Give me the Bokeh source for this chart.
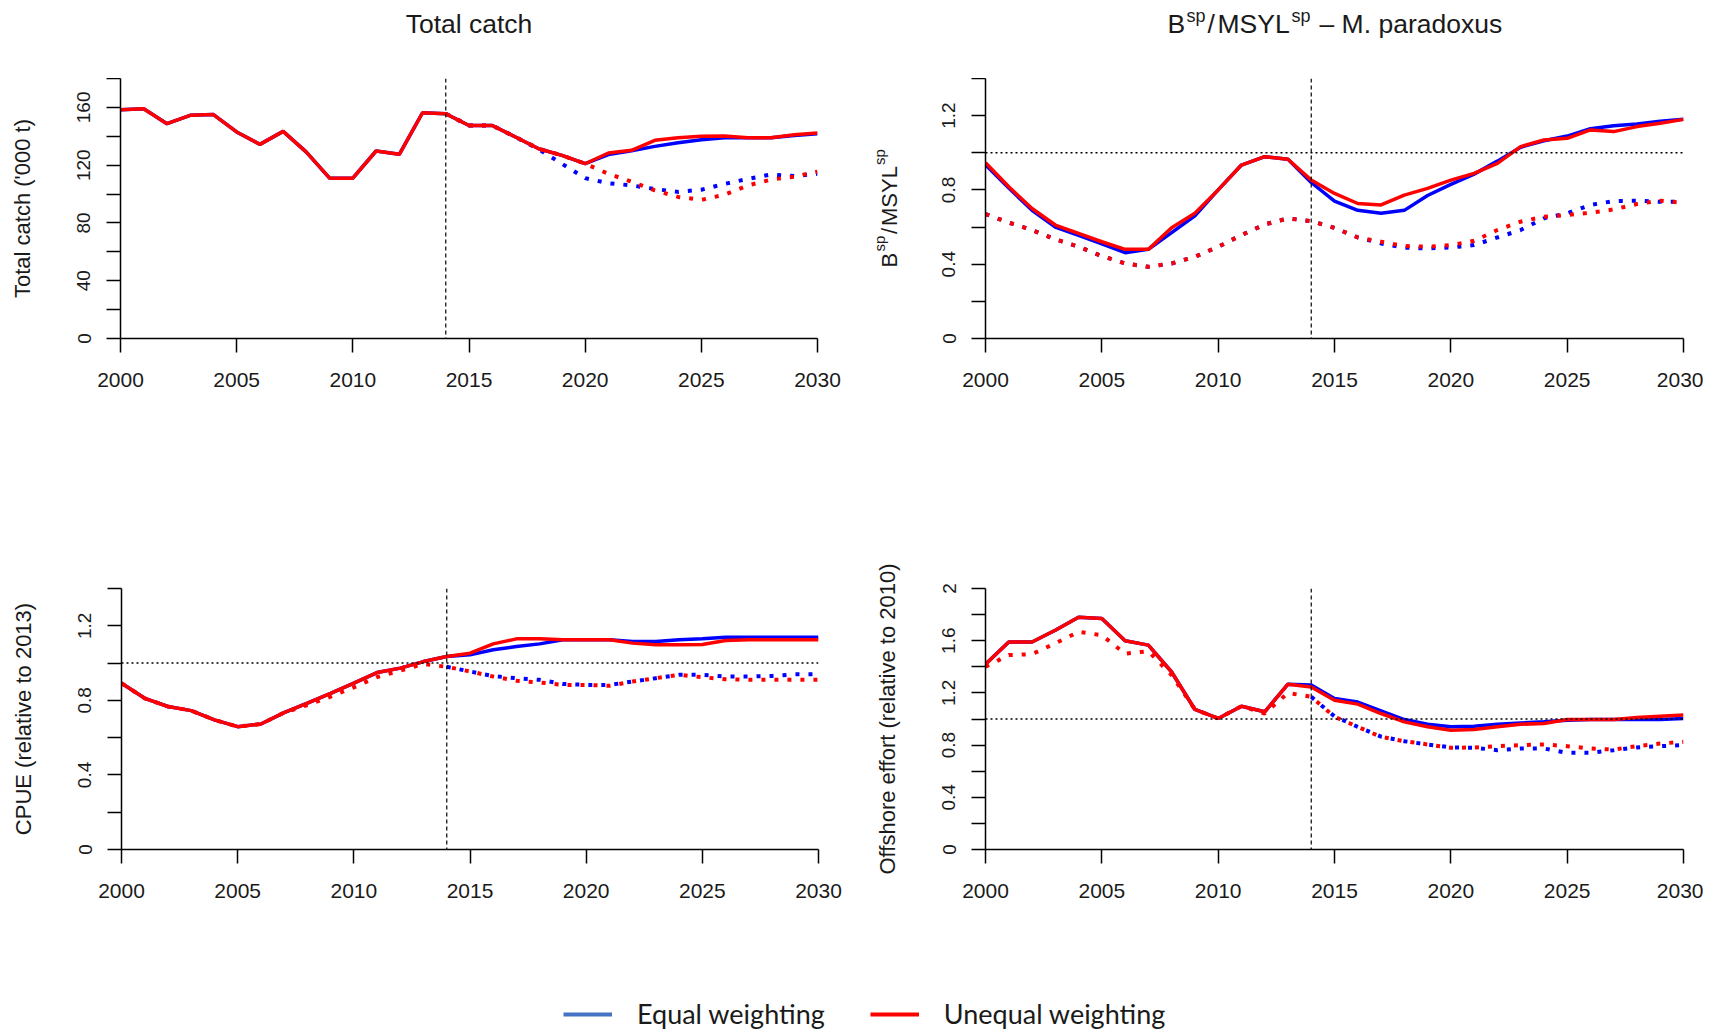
import numpy as np
from bokeh.plotting import figure
from bokeh.layouts import column, row
from bokeh.models import FixedTicker, Span, Legend, LegendItem
from bokeh.core.properties import value
from bokeh.embed import file_html
from bokeh.resources import INLINE

# ---------------- data ----------------
years = list(range(2000, 2031))
proj_years = list(range(2014, 2031))
x_ticks = [2000, 2005, 2010, 2015, 2020, 2025, 2030]

# Total catch ('000 t)
catch_unequal = [158.4, 159.0, 148.7, 154.5, 155.0, 143.0, 134.4, 143.4, 129.0, 111.0, 111.0,
                 129.8, 127.5, 156.3, 155.6, 147.5, 147.5, 139.5, 131.4, 126.8, 121.0,
                 128.4, 130.3, 137.2, 139.0, 140.0, 140.2, 139.0, 139.0, 141.0, 142.2]
catch_equal = [158.4, 159.0, 148.7, 154.5, 155.0, 143.0, 134.4, 143.4, 129.0, 111.0, 111.0,
               129.8, 127.5, 156.3, 155.6, 147.5, 147.5, 139.5, 131.4, 126.8, 121.0,
               127.3, 130.0, 133.0, 135.5, 137.6, 139.0, 139.0, 139.0, 140.6, 141.8]
catch_equal_low = [155.6, 147.5, 147.5, 139.5, 131.0, 121.0, 111.0, 107.5, 106.0, 103.5,
                   101.5, 103.0, 107.0, 110.5, 113.5, 112.5, 114.0]
catch_unequal_low = [155.6, 147.5, 147.5, 139.5, 131.4, 126.8, 121.0, 114.0, 108.5, 102.5,
                     98.0, 96.0, 99.5, 106.0, 110.0, 112.0, 115.5]

# Bsp/MSYLsp - M. paradoxus
b_unequal = [0.947, 0.817, 0.700, 0.611, 0.566, 0.521, 0.480, 0.480, 0.596, 0.674, 0.800,
             0.934, 0.979, 0.965, 0.853, 0.781, 0.727, 0.719, 0.772, 0.808, 0.853,
             0.889, 0.943, 1.033, 1.069, 1.078, 1.123, 1.114, 1.141, 1.159, 1.180]
b_equal = [0.935, 0.810, 0.690, 0.600, 0.555, 0.510, 0.462, 0.480, 0.570, 0.660, 0.800,
           0.934, 0.979, 0.965, 0.840, 0.740, 0.690, 0.674, 0.690, 0.770, 0.830,
           0.885, 0.955, 1.030, 1.065, 1.090, 1.130, 1.145, 1.155, 1.170, 1.180]
b_unequal_low = [0.670, 0.624, 0.584, 0.534, 0.494, 0.444, 0.404, 0.386, 0.404, 0.440, 0.494,
                 0.557, 0.614, 0.647, 0.632, 0.596, 0.544, 0.521, 0.498, 0.494, 0.503,
                 0.526, 0.584, 0.629, 0.656, 0.665, 0.677, 0.695, 0.724, 0.742, 0.731]
b_equal_low = [0.670, 0.624, 0.584, 0.534, 0.494, 0.444, 0.404, 0.386, 0.404, 0.440, 0.494,
               0.557, 0.614, 0.647, 0.632, 0.596, 0.544, 0.512, 0.489, 0.485, 0.490,
               0.503, 0.544, 0.584, 0.647, 0.674, 0.719, 0.740, 0.742, 0.736, 0.736]

# CPUE (relative to 2013)
cpue_unequal = [0.892, 0.811, 0.767, 0.745, 0.695, 0.659, 0.673, 0.734, 0.785, 0.838, 0.892,
                0.949, 0.973, 1.008, 1.035, 1.053, 1.103, 1.130, 1.130, 1.125, 1.125,
                1.125, 1.107, 1.098, 1.098, 1.100, 1.121, 1.125, 1.125, 1.125, 1.125]
cpue_equal = [0.892, 0.811, 0.767, 0.745, 0.695, 0.659, 0.673, 0.734, 0.785, 0.838, 0.892,
              0.949, 0.973, 1.008, 1.035, 1.044, 1.071, 1.089, 1.103, 1.125, 1.125,
              1.125, 1.116, 1.116, 1.125, 1.130, 1.139, 1.139, 1.139, 1.139, 1.139]
cpue_unequal_low = [0.892, 0.811, 0.767, 0.745, 0.695, 0.659, 0.673, 0.734, 0.775, 0.820, 0.870,
                    0.925, 0.960, 0.995, 0.980, 0.955, 0.928, 0.905, 0.896, 0.883, 0.883,
                    0.878, 0.901, 0.919, 0.937, 0.924, 0.913, 0.910, 0.910, 0.910, 0.910]
cpue_equal_low = [0.980, 0.955, 0.930, 0.919, 0.910, 0.888, 0.883, 0.883, 0.901, 0.919,
                  0.937, 0.937, 0.928, 0.928, 0.931, 0.940, 0.940]

# Offshore effort (relative to 2010)
eff_unequal = [1.420, 1.590, 1.590, 1.680, 1.780, 1.770, 1.600, 1.566, 1.360, 1.073, 1.004,
               1.098, 1.055, 1.267, 1.246, 1.144, 1.114, 1.042, 0.978, 0.940, 0.914,
               0.920, 0.940, 0.960, 0.965, 0.996, 0.996, 0.996, 1.011, 1.022, 1.030]
eff_equal = [1.420, 1.590, 1.590, 1.680, 1.780, 1.770, 1.600, 1.566, 1.360, 1.073, 1.004,
             1.098, 1.055, 1.267, 1.260, 1.157, 1.130, 1.063, 0.996, 0.960, 0.940,
             0.945, 0.960, 0.970, 0.978, 0.990, 0.996, 0.996, 0.996, 0.996, 1.004]
eff_unequal_low = [1.400, 1.490, 1.497, 1.580, 1.668, 1.642, 1.500, 1.520, 1.336, 1.073, 1.004,
                   1.098, 1.042, 1.200, 1.170, 1.017, 0.940, 0.863, 0.830, 0.805, 0.779,
                   0.782, 0.792, 0.800, 0.805, 0.792, 0.774, 0.766, 0.792, 0.812, 0.825]
eff_equal_low = [1.170, 1.020, 0.940, 0.865, 0.830, 0.805, 0.782, 0.780, 0.761, 0.774,
                 0.774, 0.741, 0.741, 0.761, 0.782, 0.792, 0.800]

series_names = ["Equal weighting", "Unequal weighting"]
titles = ["Total catch"]
title2_parts = ["B", "sp", "/", "MSYL", "sp", "\u2013 M. paradoxus"]
ylab2_parts = ["B", "sp", "/", "MSYL", "sp"]

# ---------------- style ----------------
FONT = "Liberation Sans"
BLUE = "#0000FF"
RED = "#FF0000"
TXT = "#1a1a1a"
TOTAL_W = 1703


def make_panel(ymax, y_major, y_minor, y_label_map, ylabel, b_left, b_right, b_top,
               b_bottom, fh, fw):
    p = figure(frame_width=fw, frame_height=fh, x_range=(2000, 2030), y_range=(0, ymax),
               output_backend="svg", toolbar_location=None,
               min_border_left=b_left, min_border_right=b_right,
               min_border_top=b_top, min_border_bottom=b_bottom)
    p.grid.visible = False
    p.outline_line_color = None

    xa = p.xaxis[0]
    xa.ticker = FixedTicker(ticks=x_ticks)
    ya = p.yaxis[0]
    ya.ticker = FixedTicker(ticks=y_major, minor_ticks=y_minor)
    ya.major_label_overrides = y_label_map
    for ax in (xa, ya):
        ax.axis_line_color = "black"
        ax.axis_line_width = 1.5
        ax.major_tick_line_color = "black"
        ax.major_tick_line_width = 1.5
        ax.major_tick_in = 0
        ax.major_tick_out = 14
        ax.minor_tick_in = 0
        ax.minor_tick_out = 14
        ax.minor_tick_line_width = 1.5
        ax.minor_tick_line_color = "black"
        ax.major_label_text_font = FONT
        ax.major_label_text_color = TXT
    xa.major_label_text_font_size = "21px"
    ya.major_label_text_font_size = "19px"
    xa.minor_tick_line_color = None
    xa.major_label_standoff = 20
    ya.major_label_orientation = "vertical"
    ya.major_label_standoff = 16
    if ylabel:
        ya.axis_label = ylabel
        ya.axis_label_text_font = FONT
        ya.axis_label_text_font_size = "22px"
        ya.axis_label_text_font_style = "normal"
        ya.axis_label_text_color = TXT
        ya.axis_label_standoff = 40
    return p


def add_lines(p, x, eq, uneq, x_low_eq, eq_low, x_low_uneq, uneq_low):
    p.line(x_low_eq, eq_low, line_color=BLUE, line_width=4, line_dash="4 9")
    p.line(x, eq, line_color=BLUE, line_width=3.5)
    p.line(x_low_uneq, uneq_low, line_color=RED, line_width=4, line_dash="4 9")
    p.line(x, uneq, line_color=RED, line_width=3.5)


def vline(p):
    p.add_layout(Span(location=2014, dimension="height", line_color="black",
                      line_width=1.2, line_dash="4 3"))


def hline(p):
    p.add_layout(Span(location=1.0, dimension="width", line_color="black",
                      line_width=1.6, line_dash="2 3"))


def blank_fig(w, h):
    f = figure(frame_width=w, frame_height=h, x_range=(0, w), y_range=(0, h),
               output_backend="svg", toolbar_location=None,
               x_axis_type=None, y_axis_type=None,
               min_border_left=0, min_border_right=0, min_border_top=0, min_border_bottom=0)
    f.grid.visible = False
    f.outline_line_color = None
    return f


FW_L, FW_R = 697, 698

# ---- title strip (page y 0..78) ----
tstrip = blank_fig(TOTAL_W, 78)
tstrip.text(x=[468.5], y=[55], text=[titles[0]], text_align="center",
            text_baseline="alphabetic", text_font=value(FONT), text_font_size="26.5px",
            text_color=TXT)
t2_x = [1167, 1186, 1207, 1217, 1291, 1319]
for txt, xo in zip(title2_parts, t2_x):
    sup = txt == "sp"
    tstrip.text(x=[xo], y=[63 if sup else 55], text=[txt], text_align="left",
                text_baseline="alphabetic", text_font=value(FONT),
                text_font_size="18px" if sup else "26.5px", text_color=TXT)

# ---- Panel 1 : Total catch ----
p1 = make_panel(180, [0, 40, 80, 120, 160], [20, 60, 100, 140, 180],
                {0: "0", 40: "40", 80: "80", 120: "120", 160: "160"},
                "Total catch ('000 t)", 120, 43, 0, 100, 260, FW_L)
vline(p1)
add_lines(p1, years, catch_equal, catch_unequal, proj_years, catch_equal_low,
          proj_years, catch_unequal_low)

# ---- y label for panel 2 (page x 860..920, page y 78..438) ----
ylab = blank_fig(60, 360)
yl_y = [171, 187, 204.5, 212.5, 273.5]
for txt, yo in zip(ylab2_parts, yl_y):
    sup = txt == "sp"
    ylab.text(x=[19 if sup else 29], y=[yo], text=[txt], angle=np.pi / 2,
              text_align="left", text_baseline="alphabetic", text_font=value(FONT),
              text_font_size="15px" if sup else "22px", text_color=TXT)

# ---- Panel 2 : Bsp/MSYLsp ----
p2 = make_panel(1.4, [0, 0.4, 0.8, 1.2], [0.2, 0.6, 1.0, 1.4],
                {0: "0", 0.4: "0.4", 0.8: "0.8", 1.2: "1.2"},
                None, 65, 20, 0, 100, 260, FW_R)
hline(p2)
vline(p2)
add_lines(p2, years, b_equal, b_unequal, years, b_equal_low, years, b_unequal_low)

# ---- Panel 3 : CPUE ----
p3 = make_panel(1.4, [0, 0.4, 0.8, 1.2], [0.2, 0.6, 1.0, 1.4],
                {0: "0", 0.4: "0.4", 0.8: "0.8", 1.2: "1.2"},
                "CPUE (relative to 2013)", 121, 42, 150, 136, 261, FW_L)
hline(p3)
vline(p3)
add_lines(p3, years, cpue_equal, cpue_unequal, proj_years, cpue_equal_low,
          years, cpue_unequal_low)

# ---- Panel 4 : Offshore effort ----
p4 = make_panel(2.0, [0, 0.4, 0.8, 1.2, 1.6, 2.0], [0.2, 0.6, 1.0, 1.4, 1.8],
                {0: "0", 0.4: "0.4", 0.8: "0.8", 1.2: "1.2", 1.6: "1.6", 2.0: "2"},
                "Offshore effort (relative to 2010)", 125, 20, 150, 136, 261, FW_R)
hline(p4)
vline(p4)
add_lines(p4, years, eff_equal, eff_unequal, proj_years, eff_equal_low,
          years, eff_unequal_low)

# ---- Legend strip (page y 985..1030) ----
leg = blank_fig(TOTAL_W, 45)
r_eq = leg.line([-20, -10], [-20, -20], line_color="#4472C4", line_width=4)
r_un = leg.line([-20, -10], [-20, -20], line_color=RED, line_width=4)
legend = Legend(items=[LegendItem(label=series_names[0], renderers=[r_eq]),
                       LegendItem(label=series_names[1], renderers=[r_un])],
                orientation="horizontal", location=(563, 0), glyph_width=49,
                glyph_height=28, label_height=28,
                label_standoff=25, spacing=45, padding=0, margin=0,
                border_line_alpha=0, background_fill_alpha=0,
                label_text_font="Lato", label_text_font_size="27px",
                label_text_color=TXT)
leg.add_layout(legend)

layout = column(tstrip, row(p1, ylab, p2), row(p3, p4), leg)

open("out.html", "w").write(file_html(layout, INLINE))
